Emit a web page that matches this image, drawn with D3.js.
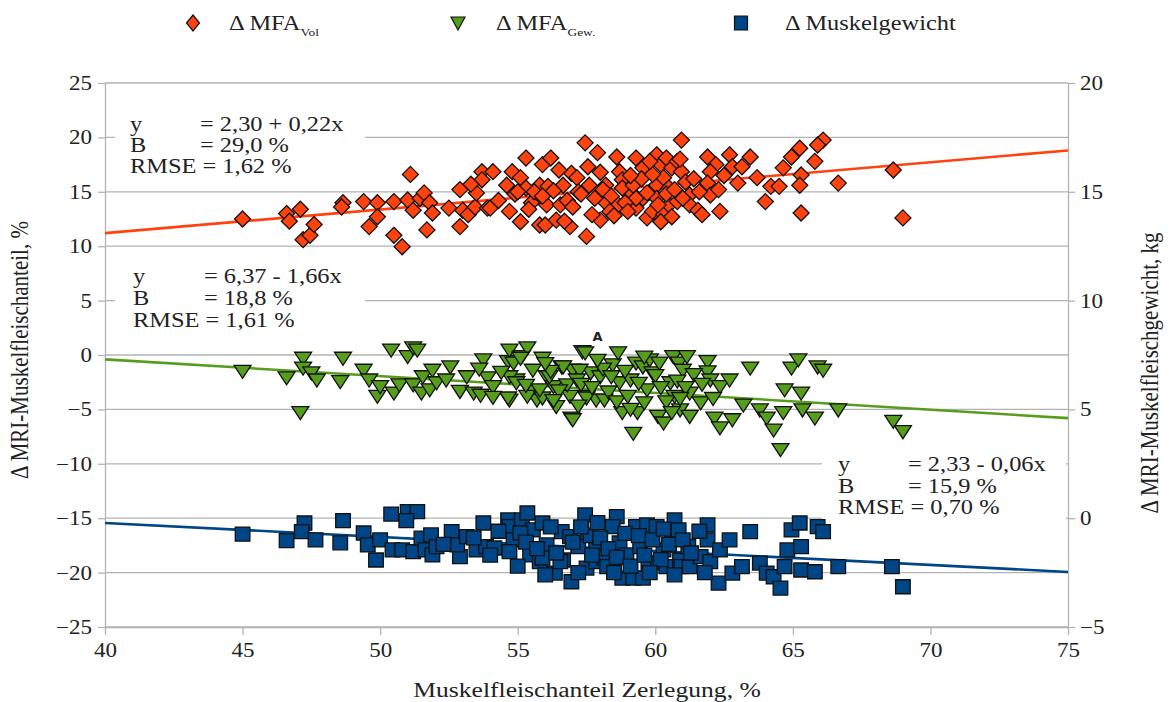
<!DOCTYPE html>
<html><head><meta charset="utf-8">
<script src="https://cdn.jsdelivr.net/npm/d3@7"></script>
<style>body{margin:0;background:#fff}svg{display:block}svg text{font-family:"Liberation Serif","Tinos","Times New Roman","DejaVu Serif",serif;fill:#222}</style>
</head><body>
<svg id="c" width="1171" height="702"></svg>
<script>
// ---- data ----
const xTicks = [40,45,50,55,60,65,70,75];
const leftTicks = [-25,-20,-15,-10,-5,0,5,10,15,20,25];
const rightTicks = [-5,0,5,10,15,20];
const trendX = [40,75];
const mfaVolTrend = [11.2,18.8];
const mfaGewTrend = [-0.4,-5.8];
const gewichtTrend = [-0.22,-2.47];

const mfaVol = [[45.0,12.5],[46.6,13.0],[46.7,12.3],[47.1,13.4],[47.2,10.6],[47.45,11.0],[47.6,12.0],[48.65,14.0],[48.6,13.6],[49.4,14.1],[49.9,14.0],[49.9,12.7],[49.6,11.8],[50.5,14.1],[50.5,11.0],[50.8,9.95],[51.1,16.6],[51.0,14.25],[51.2,13.3],[51.45,14.4],[51.6,14.9],[51.8,14.0],[51.9,13.05],[51.7,11.5],[52.5,13.5],[52.9,15.2],[52.9,11.8],[53.0,13.3],[53.2,12.9],[53.45,13.6],[53.5,14.9],[53.7,16.85],[53.7,16.1],[53.9,13.5],[54.1,16.85],[54.0,13.5],[54.8,16.85],[54.7,13.2],[55.3,18.1],[55.1,16.3],[55.1,12.25],[55.3,15.35],[55.5,14.0],[55.9,17.5],[56.2,18.1],[55.8,15.6],[56.1,15.5],[55.8,11.95],[56.0,11.95],[56.4,12.4],[56.05,13.8],[56.55,13.8],[56.65,15.6],[56.95,16.7],[56.9,11.8],[57.15,16.3],[57.5,10.9],[57.45,19.5],[57.55,17.3],[57.6,15.6],[57.2,15.0],[58.0,12.4],[58.2,14.0],[58.2,15.6],[58.6,18.2],[58.7,16.85],[58.8,16.1],[58.65,13.8],[58.35,13.2],[59.3,18.1],[59.55,17.2],[59.3,13.5],[59.7,12.6],[60.05,18.4],[60.2,17.5],[60.4,18.1],[60.6,17.2],[60.8,17.8],[60.95,19.75],[60.95,16.85],[59.8,15.0],[60.05,15.6],[60.3,16.3],[60.5,15.35],[59.55,14.4],[60.05,14.4],[59.9,13.2],[60.3,12.9],[60.2,12.25],[59.1,15.0],[59.3,14.4],[58.8,15.35],[60.5,13.8],[60.8,14.1],[61.1,15.9],[61.25,14.7],[61.25,13.8],[61.55,13.3],[61.9,18.2],[62.2,17.5],[62.0,16.85],[61.9,15.8],[62.0,14.7],[62.3,15.2],[62.35,13.2],[62.7,18.4],[62.8,17.3],[63.15,17.3],[63.45,18.2],[63.7,16.3],[64.0,14.1],[64.2,15.5],[64.5,15.5],[64.65,17.2],[64.95,18.2],[65.25,19.0],[65.3,16.55],[65.25,15.6],[65.3,13.05],[65.8,17.8],[66.1,19.75],[65.9,19.3],[66.65,15.8],[68.65,17.0],[69.0,12.6],
  [55.6,15.0],[55.9,14.6],[56.3,15.1],[56.8,14.2],[57.0,13.6],[57.3,14.8],[57.8,14.4],[58.1,15.2],[58.4,14.6],[58.9,14.0],[59.0,13.2],[59.2,15.6],[59.5,16.2],[59.7,14.9],[59.9,16.6],[60.1,13.8],[60.4,14.8],[60.7,15.2],[61.0,14.4],[61.4,16.2],[61.6,15.0],[58.5,12.8],[57.7,12.9],[56.7,12.3],[55.4,13.4],[54.9,14.8],[54.6,15.6],[54.3,14.2],[53.3,15.7],[58.0,16.8],[59.8,17.8],[60.9,18.0],[62.5,16.5],[63.0,15.8],[61.7,12.9],[60.6,12.7],[56.5,17.0],[57.9,18.6],[55.0,15.0],[59.1,16.5]];

const mfaGew = [[45.0,-1.5],[46.6,-2.1],[47.2,-0.3],[47.2,-1.2],[47.1,-5.3],[47.5,-1.65],[47.7,-2.3],[48.65,-0.3],[48.55,-2.45],[49.4,-1.4],[49.6,-2.3],[49.9,-3.8],[50.0,-2.9],[50.4,0.45],[50.5,-3.5],[50.7,-2.75],[51.0,-0.15],[51.2,0.65],[51.35,0.45],[51.2,-2.75],[51.5,-3.5],[51.55,-2.0],[51.8,-3.2],[51.9,-1.4],[52.05,-2.55],[52.55,-1.1],[52.9,-3.35],[53.15,-2.0],[53.4,-3.5],[53.65,-3.7],[53.75,-0.45],[53.9,-2.1],[54.1,-2.9],[54.65,-0.6],[54.7,0.45],[54.85,-0.75],[54.95,-2.3],[54.7,-4.15],[55.15,-0.15],[55.35,0.65],[55.45,-3.35],[55.55,-1.4],[55.7,-4.15],[55.9,-0.3],[56.05,-2.0],[56.3,-2.9],[56.4,-4.75],[56.6,-1.1],[56.9,-3.8],[57.0,-1.4],[56.95,-5.8],[57.35,0.3],[57.5,-3.8],[57.65,-1.65],[57.85,-4.15],[55.1,-0.3],[54.7,-2.0],[54.95,-2.55],[54.65,-3.95],[55.35,-3.8],[55.9,-3.95],[56.15,-2.0],[56.65,-1.1],[56.8,-2.75],[57.0,-5.95],[57.25,-1.4],[57.15,-2.3],[57.45,0.2],[57.5,-3.95],[58.0,-2.0],[58.15,-4.15],[58.45,-0.9],[58.65,0.2],[58.7,-2.55],[58.8,-5.3],[59.1,-2.3],[59.2,-7.2],[59.3,-0.75],[59.35,-5.3],[59.55,-1.1],[59.7,-3.2],[59.8,-0.45],[59.9,-1.65],[60.1,-5.65],[60.15,-0.75],[60.3,-6.25],[60.55,-2.55],[60.65,-0.15],[60.7,-3.8],[60.85,-0.75],[60.9,-5.05],[61.0,-1.4],[61.15,-0.15],[61.25,-3.5],[61.25,-5.65],[61.65,-4.4],[61.9,-0.6],[61.9,-1.55],[62.0,-2.3],[62.15,-5.8],[62.35,-6.7],[62.35,-2.9],[62.7,-2.3],[62.8,-5.95],[63.2,-4.6],[63.45,-1.2],[63.8,-5.05],[64.05,-5.8],[64.3,-6.9],[64.55,-8.7],[64.65,-5.3],[64.7,-3.2],[64.95,-1.2],[65.2,-0.45],[65.3,-3.5],[65.35,-5.05],[65.8,-5.8],[65.9,-1.1],[66.1,-1.4],[66.65,-5.05],[68.65,-6.1],[69.0,-7.05],
  [55.3,-2.8],[55.8,-3.2],[56.2,-1.5],[56.5,-3.3],[57.3,-2.7],[57.7,-3.0],[58.1,-1.3],[58.3,-3.4],[58.6,-4.3],[58.9,-1.5],[59.0,-3.8],[59.4,-2.6],[59.6,-4.4],[60.0,-1.9],[60.2,-3.0],[60.4,-4.3],[60.8,-2.4],[61.1,-3.0],[61.4,-1.8],[54.4,-1.6],[54.1,-3.9],[53.6,-1.3],[52.4,-2.3],[56.0,-0.8],[57.9,-0.5],[59.6,-0.2],[60.9,-4.0],[61.7,-2.7],[62.1,-4.0],[58.4,-2.0],[59.1,-5.0],[60.6,-5.3],[56.3,-4.2],[57.2,-4.7]];

const gewicht = [[45.0,-0.73],[46.6,-1.03],[47.25,-0.22],[47.15,-0.62],[47.65,-1.0],[48.65,-0.11],[48.55,-1.13],[49.4,-0.68],[49.55,-1.23],[49.85,-1.92],[50.0,-1.0],[50.4,0.19],[50.45,-1.46],[50.8,-1.46],[51.0,0.3],[51.35,0.3],[50.95,-0.11],[51.2,-1.54],[51.5,-0.92],[51.65,-1.46],[51.85,-0.77],[51.9,-1.69],[52.05,-1.31],[52.6,-0.62],[52.9,-1.77],[52.8,-1.23],[53.15,-0.85],[53.5,-1.46],[53.75,-0.22],[53.85,-1.31],[54.15,-1.37],[54.65,-0.08],[54.7,-0.39],[54.85,-1.0],[54.7,-1.54],[55.15,-0.08],[55.35,0.24],[55.45,-1.69],[55.55,-0.54],[55.8,-2.0],[55.9,-0.22],[56.05,-1.23],[56.35,-2.52],[56.6,-0.62],[56.65,-1.92],[56.9,-0.85],[56.95,-2.92],[57.45,0.15],[57.5,-2.29],[57.55,-0.77],[57.85,-2.0],[55.1,-0.68],[55.9,-1.83],[56.55,-2.0],[57.2,-1.31],[57.65,-0.8],[57.85,-1.46],[58.15,-1.83],[58.25,-2.23],[58.6,0.07],[58.45,-0.39],[58.7,-1.14],[58.8,-2.75],[58.95,-1.69],[59.2,-2.75],[59.3,-0.39],[59.45,-1.31],[59.55,-2.75],[59.7,-0.31],[59.75,-2.06],[60.05,-0.39],[60.1,-2.06],[60.3,-1.46],[60.4,-2.23],[60.6,-0.85],[60.7,-0.08],[60.85,-0.54],[60.9,-1.92],[60.95,-2.23],[61.2,-1.31],[61.25,-2.23],[61.65,-1.77],[61.9,-0.31],[61.9,-1.0],[62.0,-2.0],[62.3,-2.98],[62.35,-1.46],[62.7,-1.0],[62.8,-2.52],[63.15,-2.23],[63.45,-0.62],[63.8,-2.06],[64.05,-2.52],[64.3,-2.69],[64.55,-3.21],[64.7,-2.23],[64.8,-1.46],[64.95,-0.54],[65.25,-0.22],[65.3,-1.31],[65.3,-2.38],[65.8,-2.46],[65.9,-0.39],[66.1,-0.62],[66.65,-2.23],[68.6,-2.23],[69.0,-3.15],
  [55.3,-1.1],[55.7,-1.4],[56.2,-0.4],[56.4,-1.6],[57.0,-1.1],[57.3,-0.4],[57.7,-1.7],[58.0,-0.9],[58.3,-1.4],[58.6,-1.8],[58.9,-0.7],[59.1,-2.2],[59.4,-0.8],[59.6,-1.7],[59.9,-1.0],[60.2,-1.9],[60.5,-1.2],[60.7,-2.6],[61.0,-1.0],[61.3,-1.6],[61.6,-0.6],[54.3,-0.6],[54.0,-1.7],[53.4,-0.9],[52.3,-1.2],[55.0,-2.2],[56.0,-2.6],[57.2,-2.5],[58.5,-2.5],[59.8,-2.5],[61.8,-2.5],[60.3,-0.5],[57.9,-0.2]];

const annotations = [
  [["y","= 2,30 + 0,22x"],["B","= 29,0 %"],["RMSE","= 1,62 %"]],
  [["y","= 6,37 - 1,66x"],["B","= 18,8 %"],["RMSE","= 1,61 %"]],
  [["y","= 2,33 - 0,06x"],["B","= 15,9 %"],["RMSE","= 0,70 %"]]
];
const legendLabels = [["Δ MFA","Vol"],["Δ MFA","Gew."],["Δ Muskelgewicht",""]];
const colors = {orange:"#ff420e", green:"#579d1c", blue:"#004586"};

// ---- layout ----
const FONT = "'Liberation Serif','Tinos','Times New Roman','DejaVu Serif',serif";
const svg = d3.select("#c");
const L=105, R=1068, T=83, B=627;
const x = d3.scaleLinear().domain([40,75]).range([L,R]);
const yL = d3.scaleLinear().domain([-25,25]).range([B,T]);
const yR = d3.scaleLinear().domain([-5,20]).range([B,T]);
const grid="#b3b3b3";
const SX = 1.22; // horizontal stretch of the original picture's text

function txt(px,py,str,size,sx,anchor){
  return svg.append("text").attr("transform",`translate(${px},${py}) scale(${sx},1)`)
    .attr("text-anchor",anchor||"start").style("font-size",size+"px").text(str);
}

svg.append("g").selectAll("line").data(leftTicks).join("line")
  .attr("x1",L).attr("x2",R).attr("y1",d=>yL(d)).attr("y2",d=>yL(d))
  .attr("stroke",grid).attr("stroke-width",1.3);

const axL = svg.append("g").attr("transform",`translate(${L},0)`)
  .call(d3.axisLeft(yL).tickValues(leftTicks).tickSize(7).tickSizeOuter(0).tickPadding(4.3));
const axR = svg.append("g").attr("transform",`translate(${R},0)`)
  .call(d3.axisRight(yR).tickValues(rightTicks).tickSize(7).tickSizeOuter(0).tickPadding(3.5));
const axB = svg.append("g").attr("transform",`translate(0,${B})`)
  .call(d3.axisBottom(x).tickValues(xTicks).tickSize(8).tickSizeOuter(0).tickPadding(8));
[axL,axR,axB].forEach(a=>{
  a.attr("font-family",null).attr("font-size",null);
  a.selectAll("path,line").attr("stroke",grid).attr("stroke-width",1.3);
  a.selectAll("text").style("font-family",FONT).style("font-size","20px").attr("fill","#222")
    .attr("transform","scale(1.15,1)");
});

// annotation boxes
const boxes=[{x:115,y:108,w:250,h:72,tx:130,ex:200,by:[131,152,173]},
             {x:115,y:262,w:250,h:74,tx:133,ex:204,by:[283,305,327]},
             {x:822,y:448,w:244,h:74,tx:838,ex:908,by:[471,493,514]}];
boxes.forEach((b,i)=>{
  svg.append("rect").attr("x",b.x).attr("y",b.y).attr("width",b.w).attr("height",b.h).attr("fill","#fff");
  annotations[i].forEach((ln,j)=>{
    if(ln[0]==="RMSE"){ txt(b.tx,b.by[j],ln[0]+" "+ln[1],20,SX); }
    else { txt(b.tx,b.by[j],ln[0],20,SX); txt(b.ex,b.by[j],ln[1],20,SX); }
  });
});

// trend lines
const line = (ys,sc)=>d3.line()(trendX.map((v,i)=>[x(v),sc(ys[i])]));
svg.append("path").attr("d",line(mfaVolTrend,yL)).attr("stroke",colors.orange).attr("stroke-width",2.6).attr("fill","none");
svg.append("path").attr("d",line(mfaGewTrend,yL)).attr("stroke",colors.green).attr("stroke-width",2.6).attr("fill","none");
svg.append("path").attr("d",line(gewichtTrend,yR)).attr("stroke",colors.blue).attr("stroke-width",2.6).attr("fill","none");

// markers
const diamond = "M0,-8L8,0L0,8L-8,0Z";
const tri = "M-8.5,-6L8.5,-6L0,7Z";
const sq = "M-7.3,-7H7.3V7H-7.3Z";
function pts(data,sc,path,col){
  svg.append("g").selectAll("path").data(data).join("path")
    .attr("d",path).attr("transform",d=>`translate(${x(d[0])},${sc(d[1])})`)
    .attr("fill",col).attr("stroke","#111").attr("stroke-width",1.3);
}
pts(gewicht,yR,sq,colors.blue);
pts(mfaGew,yL,tri,colors.green);
pts(mfaVol,yL,diamond,colors.orange);

svg.append("text").attr("x",x(57.9)).attr("y",yL(1.3)).attr("text-anchor","middle")
  .style("font-family","'DejaVu Sans',sans-serif").style("font-size","13px").style("font-weight","bold").text("A");

// legend
const legX=[193,458,741], legT=[229,496,785], legY=23;
const legPaths=["M0,-8L6.5,0L0,8L-6.5,0Z","M-7,-6L7,-6L0,7Z","M-6.5,-7H6.5V7H-6.5Z"], legCols=[colors.orange,colors.green,colors.blue];
legX.forEach((lx,i)=>{
  svg.append("path").attr("d",legPaths[i]).attr("transform",`translate(${lx},${legY})`)
    .attr("fill",legCols[i]).attr("stroke","#111").attr("stroke-width",1.2);
  const t=txt(legT[i],legY+7,legendLabels[i][0],20,SX);
  if(legendLabels[i][1]) t.append("tspan").attr("dy",6).style("font-size","11px").text(legendLabels[i][1]);
});

// axis titles
svg.append("text").attr("transform","translate(28,350) rotate(-90) scale(1,1.2)").attr("text-anchor","middle")
  .style("font-size","21px").text("Δ MRI-Muskelfleischanteil, %");
svg.append("text").attr("transform","translate(1158,373) rotate(-90) scale(1,1.2)").attr("text-anchor","middle")
  .style("font-size","21px").text("Δ MRI-Muskelfleischgewicht, kg");
txt(587,697,"Muskelfleischanteil Zerlegung, %",20,1.28,"middle");
</script>
</body></html>
